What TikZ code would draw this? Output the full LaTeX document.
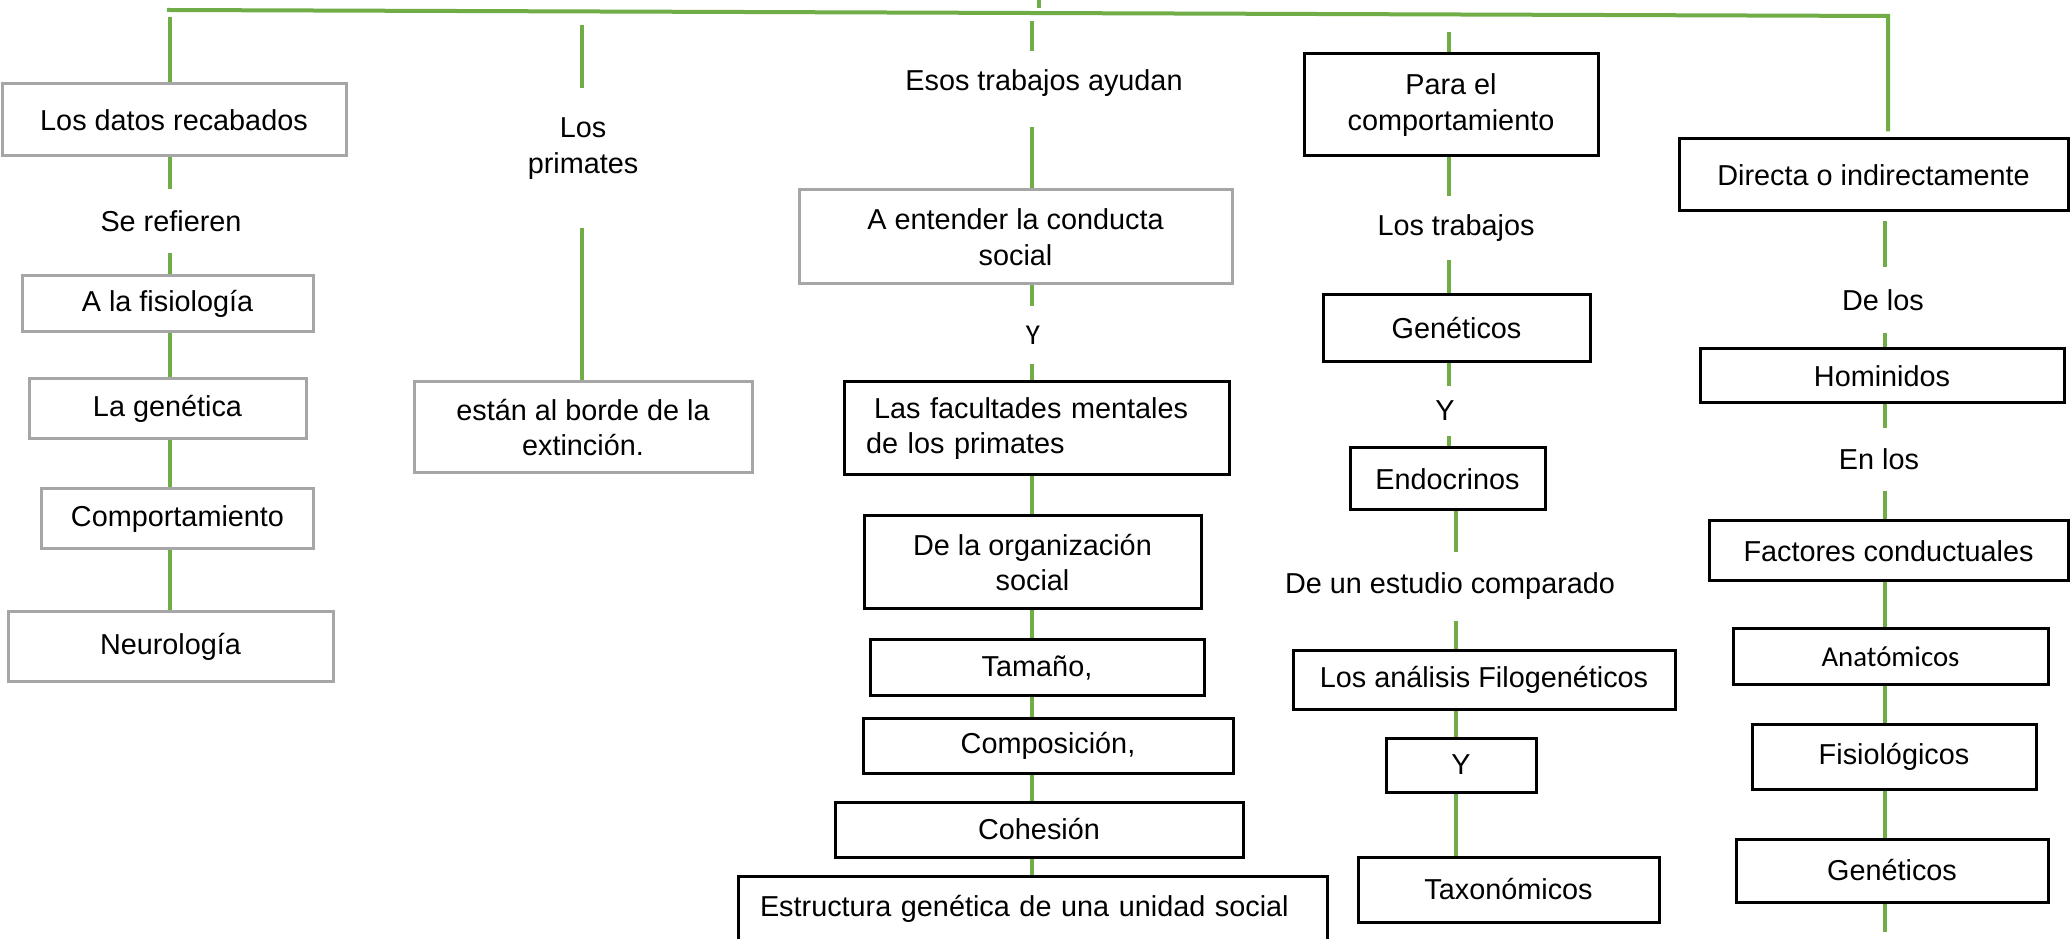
\documentclass[tikz,border=0pt]{standalone}
\usepackage{fontspec}
\setmainfont{Liberation Sans}
\newfontfamily\calibri{Carlito}
\usepackage{tikz}
\usepackage{xcolor}
\usetikzlibrary{backgrounds}
\definecolor{linkgreen}{HTML}{70AD47}
\definecolor{boxgray}{HTML}{A6A6A6}

\begin{document}
\begin{tikzpicture}[
        font=\fontsize{8.2}{10.2}\selectfont,
        link/.style={draw=linkgreen, line width=.4mm},
        graybox/.style={draw=boxgray, line width=.3mm, align=center, inner sep=0},
        blackbox/.style={draw=black, line width=.3mm, align=center, inner sep=0},
        txt/.style={align=center, inner sep=0},
        smalltxt/.style={txt, font=\calibri\fontsize{8.2}{10.2}\selectfont}
    ]
        \useasboundingbox (0,0) rectangle (20.70,-9.39);
        % column one
        \node[graybox, minimum width=3.44cm, minimum height=.72cm] (datos) at (1.74,-1.20) {Los datos recabados};
        \node[txt, minimum height=.62cm] (refieren) at (1.71,-2.21) {Se refieren};
        \node[graybox, minimum width=2.91cm, minimum height=.56cm] (fisiologia) at (1.675,-3.04) {A la fisiología};
        \node[graybox, minimum width=2.77cm, minimum height=.60cm] (genetica) at (1.675,-4.09) {La genética};
        \node[graybox, minimum width=2.71cm, minimum height=.60cm] (comportamiento) at (1.775,-5.19) {Comportamiento};
        \node[graybox, minimum width=3.25cm, minimum height=.70cm] (neurologia) at (1.705,-6.47) {Neurología};
        % column two
        \node[txt, minimum height=1.2cm] (primates) at (5.83,-1.49) {Los\\primates};
        \node[graybox, minimum width=3.38cm, minimum height=.91cm] (extincion) at (5.83,-4.275) {están al borde de la\\extinción.};
        % column three
        \node[txt, minimum height=.62cm] (ayudan) at (10.44,-0.83) {Esos trabajos ayudan};
        \node[graybox, minimum width=4.33cm, minimum height=.94cm] (entender) at (10.155,-2.37) {A entender la conducta\\social};
        \node[smalltxt, minimum height=.56cm] (yA) at (10.33,-3.35) {Y};
        \node[blackbox, minimum width=3.85cm, minimum height=.93cm, text width=3.41cm, inner xsep=.22cm, align=left] (facultades) at (10.365,-4.285) {\hspace*{.08cm}Las facultades mentales\\de los primates};
        \node[blackbox, minimum width=3.37cm, minimum height=.93cm] (organizacion) at (10.325,-5.625) {De la organización\\social};
        \node[blackbox, minimum width=3.34cm, minimum height=.56cm] (tamano) at (10.37,-6.68) {Tamaño,};
        \node[blackbox, minimum width=3.70cm, minimum height=.55cm] (composicion) at (10.48,-7.455) {Composición,};
        \node[blackbox, minimum width=4.08cm, minimum height=.55cm] (cohesion) at (10.39,-8.295) {Cohesión};
        \node[blackbox, anchor=north, minimum width=5.89cm, text width=5.45cm, inner xsep=.22cm, align=left, text height=.40cm, text depth=.70cm] (estructura) at (10.325,-8.75) {Estructura genética de una unidad social};
        % column four
        \node[blackbox, minimum width=2.94cm, minimum height=1.02cm] (para) at (14.51,-1.05) {Para el\\comportamiento};
        \node[txt, minimum height=.62cm] (trabajos) at (14.56,-2.28) {Los trabajos};
        \node[blackbox, minimum width=2.67cm, minimum height=.67cm] (geneticosA) at (14.565,-3.285) {Genéticos};
        \node[txt, minimum height=.48cm] (yB) at (14.45,-4.11) {Y};
        \node[blackbox, minimum width=1.95cm, minimum height=.62cm] (endocrinos) at (14.475,-4.79) {Endocrinos};
        \node[txt, minimum height=.67cm] (estudio) at (14.50,-5.865) {De un estudio comparado};
        \node[blackbox, minimum width=3.82cm, minimum height=.58cm] (filogeneticos) at (14.84,-6.80) {Los análisis Filogenéticos};
        \node[blackbox, minimum width=1.50cm, minimum height=.54cm] (yC) at (14.61,-7.65) {Y};
        \node[blackbox, minimum width=3.01cm, minimum height=.65cm] (taxonomicos) at (15.085,-8.895) {Taxonómicos};
        % column five
        \node[blackbox, minimum width=3.89cm, minimum height=.72cm] (directa) at (18.735,-1.75) {Directa o indirectamente};
        \node[txt, minimum height=.64cm] (delos) at (18.83,-3.00) {De los};
        \node[blackbox, minimum width=3.64cm, minimum height=.54cm] (hominidos) at (18.82,-3.76) {Hominidos};
        \node[txt, minimum height=.61cm] (enlos) at (18.79,-4.595) {En los};
        \node[blackbox, minimum width=3.59cm, minimum height=.60cm] (factores) at (18.885,-5.51) {Factores conductuales};
        \node[blackbox, font=\calibri\fontsize{8.2}{10.2}\selectfont, minimum width=3.15cm, minimum height=.55cm] (anatomicos) at (18.905,-6.565) {Anatómicos};
        \node[blackbox, minimum width=2.84cm, minimum height=.65cm] (fisiologicos) at (18.94,-7.565) {Fisiológicos};
        \node[blackbox, minimum width=3.12cm, minimum height=.63cm] (geneticosB) at (18.92,-8.705) {Genéticos};

        \begin{pgfonlayer}{background}
        \fill[white] (0,0) rectangle (20.70,-9.39);
        % top line
        \coordinate (rootL) at (1.67,-0.10);
        \coordinate (rootR) at (18.88,-0.16);
        \coordinate (rootUp) at (10.39,0);
        \coordinate (rootDown) at (10.39,-0.08);
        \draw[link] (rootUp) -- (rootDown);
        \draw[link, shorten >=.06cm] (rootL) -- (rootR) -- (rootR |- directa.north);
        % column one links
        \coordinate (colA) at (1.70,-0.17);
        \draw[link] (colA) -- (colA |- datos.north);
        \draw[link] (datos.south -| colA) -- (refieren.north -| colA);
        \draw[link] (refieren.south -| colA) -- (fisiologia.north -| colA);
        \draw[link] (fisiologia.south -| colA) -- (genetica.north -| colA);
        \draw[link] (genetica.south -| colA) -- (comportamiento.north -| colA);
        \draw[link] (comportamiento.south -| colA) -- (neurologia.north -| colA);
        % column two links
        \coordinate (colB) at (5.82,-0.25);
        \draw[link] (colB) -- (colB |- primates.north);
        \draw[link, shorten <=.18cm] (primates.south -| colB) -- (extincion.north -| colB);
        % column three links
        \coordinate (colC) at (10.32,-0.21);
        \draw[link] (colC) -- (colC |- ayudan.north);
        \draw[link, shorten <=.12cm] (ayudan.south -| colC) -- (entender.north -| colC);
        \draw[link] (entender.south -| colC) -- (yA.north -| colC);
        \draw[link] (yA.south -| colC) -- (facultades.north -| colC);
        \draw[link] (facultades.south -| colC) -- (organizacion.north -| colC);
        \draw[link] (organizacion.south -| colC) -- (tamano.north -| colC);
        \draw[link] (tamano.south -| colC) -- (composicion.north -| colC);
        \draw[link] (composicion.south -| colC) -- (cohesion.north -| colC);
        \draw[link] (cohesion.south -| colC) -- (estructura.north -| colC);
        % column four links
        \coordinate (colD) at (14.49,-0.32);
        \coordinate (colDlow) at (14.56,-4.79);
        \draw[link] (colD) -- (colD |- para.north);
        \draw[link] (para.south -| colD) -- (trabajos.north -| colD);
        \draw[link] (trabajos.south -| colD) -- (geneticosA.north -| colD);
        \draw[link] (geneticosA.south -| colD) -- (yB.north -| colD);
        \draw[link] (yB.south -| colD) -- (endocrinos.north -| colD);
        \draw[link] (endocrinos.south -| colDlow) -- (estudio.north -| colDlow);
        \draw[link] (estudio.south -| colDlow) -- (filogeneticos.north -| colDlow);
        \draw[link] (filogeneticos.south -| colDlow) -- (yC.north -| colDlow);
        \draw[link] (yC.south -| colDlow) -- (taxonomicos.north -| colDlow);
        % column five links
        \coordinate (colE) at (18.85,-9.32);
        \draw[link, shorten <=.09cm] (directa.south -| colE) -- (delos.north -| colE);
        \draw[link] (delos.south -| colE) -- (hominidos.north -| colE);
        \draw[link] (hominidos.south -| colE) -- (enlos.north -| colE);
        \draw[link] (enlos.south -| colE) -- (factores.north -| colE);
        \draw[link] (factores.south -| colE) -- (anatomicos.north -| colE);
        \draw[link] (anatomicos.south -| colE) -- (fisiologicos.north -| colE);
        \draw[link] (fisiologicos.south -| colE) -- (geneticosB.north -| colE);
        \draw[link] (geneticosB.south -| colE) -- (colE);
        \end{pgfonlayer}
    \end{tikzpicture}
\end{document}
